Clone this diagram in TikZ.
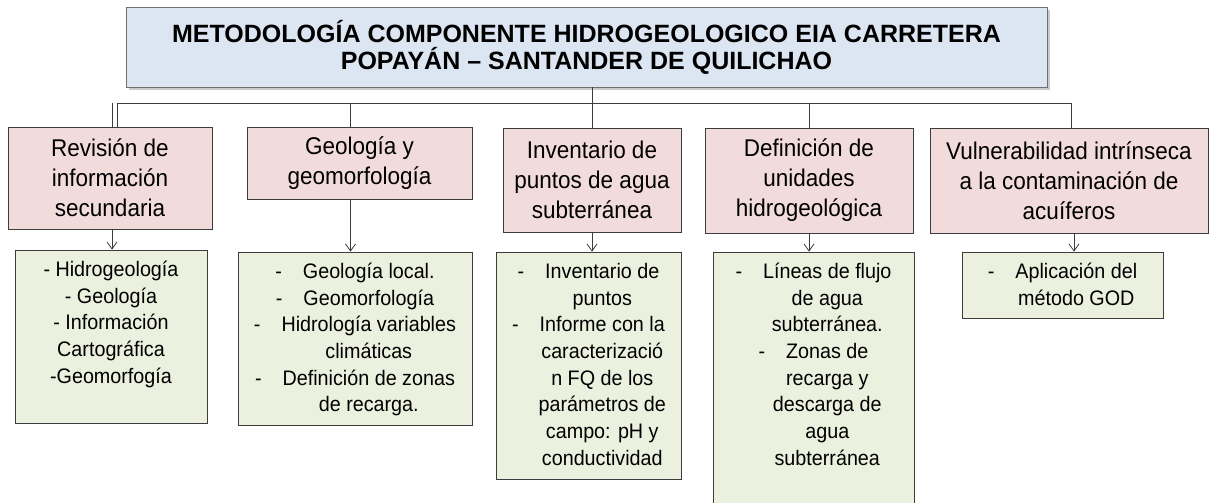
\documentclass[tikz,border=0pt]{standalone}
\usepackage{fontspec}
\setmainfont{Liberation Sans}
\newfontfamily\pfont[FakeStretch=0.93]{Liberation Sans}
\newfontfamily\gfont[FakeStretch=0.94]{Liberation Sans}
\usepackage{xcolor}
\usetikzlibrary{arrows.meta, shadows, math}
\definecolor{tblue}{RGB}{220,230,242}
\definecolor{tpink}{RGB}{242,220,219}
\definecolor{tgreen}{RGB}{235,241,222}
\definecolor{tline}{RGB}{110,110,110}
\definecolor{pline}{RGB}{60,60,60}
% dash item and its continuation line
\newcommand{\dl}[1]{\strut-\hspace*{1em}#1}
\newcommand{\cl}[1]{\strut\hphantom{-}\hspace*{1em}#1}

\begin{document}
\begin{tikzpicture}[x=1pt,y=-1pt,
  pbox/.style={draw=pline, fill=tpink, line width=0.8pt, align=center, inner sep=0pt, font=\pfont\fontsize{24.2}{30}\selectfont},
  gbox/.style={draw=pline, fill=tgreen, line width=0.8pt, inner sep=0pt},
  gtxt/.style={align=center, inner sep=0pt, anchor=north, font=\gfont\fontsize{21}{26.7}\selectfont},
  conn/.style={line width=0.8pt, color=pline},
  arr/.style={conn, -{Straight Barb[length=7pt,width=10pt]}}]

\useasboundingbox (0,0) rectangle (1211,503);

\tikzmath{
\Yb = 103; % bus line
\Dg = 8;   % text drop in green boxes
}

%title:
\node[draw=tline, fill=tblue, line width=0.8pt, minimum width=921pt, minimum height=80pt,
  align=center, font=\bfseries\fontsize{25}{27}\selectfont,
  drop shadow={shadow xshift=3pt, shadow yshift=-3pt, opacity=0.4}] (title) at (586.5,47)
  {METODOLOGÍA COMPONENTE HIDROGEOLOGICO EIA CARRETERA\\POPAYÁN – SANTANDER DE QUILICHAO};

%steps:
\node[pbox, minimum width=204pt, minimum height=102pt] (p1) at (110,178) {Revisión de\\información\\secundaria};
\node[pbox, minimum width=225pt, minimum height=72pt] (p2) at (359.5,163) {Geología y\\geomorfología};
\node[pbox, minimum width=178pt, minimum height=104pt] (p3) at (592,180) {Inventario de\\puntos de agua\\subterránea};
\node[pbox, minimum width=208pt, minimum height=105pt] (p4) at (809,180.5) {Definición de\\unidades\\hidrogeológica};
\node[pbox, minimum width=278pt, minimum height=105pt] (p5) at (1069,180.5) {Vulnerabilidad intrínseca\\a la contaminación de\\acuíferos};

%results:
\node[gbox, minimum width=192pt, minimum height=173pt] (g1) at (111,336.5) {};
\node[gbox, minimum width=234pt, minimum height=173pt] (g2) at (355,338.5) {};
\node[gbox, minimum width=185pt, minimum height=227pt] (g3) at (588.5,365.5) {};
\node[gbox, minimum width=201pt, minimum height=268pt] (g4) at (813.5,386) {};
\node[gbox, minimum width=201pt, minimum height=66pt] (g5) at (1062.5,285) {};

\node[gtxt] at ([yshift=-\Dg pt]g1.north) {\strut- Hidrogeología\\- Geología\\- Información\\Cartográfica\\-Geomorfogía};
\node[gtxt] at ([yshift=-\Dg pt]g2.north) {\dl{Geología local.}\\\dl{Geomorfología}\\\dl{Hidrología variables}\\\cl{climáticas}\\\dl{Definición de zonas}\\\cl{de recarga.}};
\node[gtxt] at ([yshift=-\Dg pt]g3.north) {\dl{Inventario de}\\\cl{puntos}\\\dl{Informe con la}\\\cl{caracterizació}\\\cl{n FQ de los}\\\cl{parámetros de}\\\cl{campo: pH y}\\\cl{conductividad}};
\node[gtxt] at ([yshift=-\Dg pt]g4.north) {\dl{Líneas de flujo}\\\cl{de agua}\\\cl{subterránea.}\\\dl{Zonas de}\\\cl{recarga y}\\\cl{descarga de}\\\cl{agua}\\\cl{subterránea}};
\node[gtxt] at ([yshift=-\Dg pt]g5.north) {\dl{Aplicación del}\\\cl{método GOD}};

%bus:
\coordinate (bus) at (0,\Yb);
\draw[conn] (p3.north) -- (p3.north |- title.south);
\draw[conn] ([xshift=7pt]p1.north) |- ([xshift=2pt]p5.north |- bus) -- ([xshift=2pt]p5.north);
\draw[conn] ([xshift=2pt]p1.north) -- ([xshift=2pt]p1.north |- bus);
\draw[conn] ([xshift=-9pt]p2.north) -- ([xshift=-9pt]p2.north |- bus);
\draw[conn] (p4.north) -- (p4.north |- bus);

%arrows:
\draw[arr] ([xshift=2pt]p1.south) -- ([xshift=2pt]p1.south |- g1.north);
\draw[arr] ([xshift=-9pt]p2.south) -- ([xshift=-9pt]p2.south |- g2.north);
\draw[arr] (p3.south) -- (p3.south |- g3.north);
\draw[arr] (p4.south) -- (p4.south |- g4.north);
\draw[arr] ([xshift=5pt]p5.south) -- ([xshift=5pt]p5.south |- g5.north);

\end{tikzpicture}
\end{document}
